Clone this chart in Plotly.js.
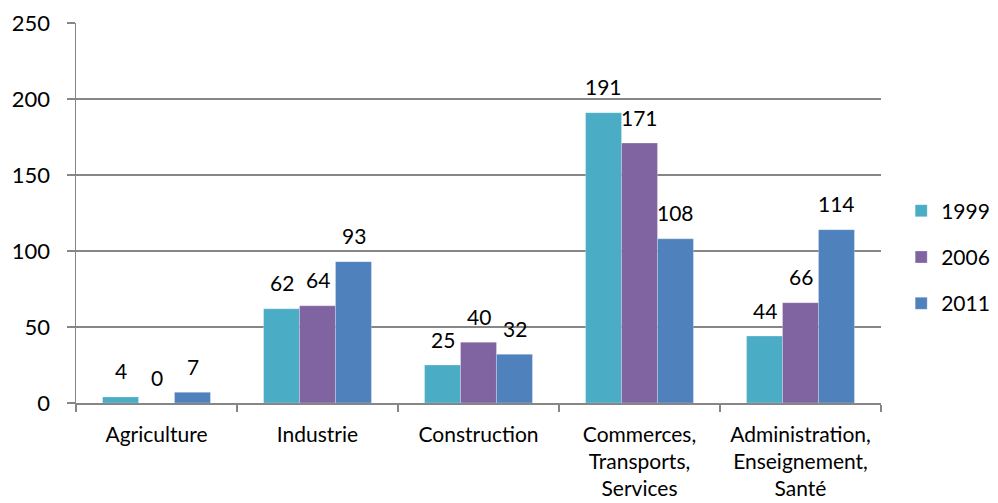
<!DOCTYPE html>
<html>
<head>
<meta charset="utf-8">
<script src="https://cdn.plot.ly/plotly-3.0.1.min.js"></script>
<style>html,body{margin:0;padding:0;background:#fff;}#chart{width:998px;height:503px;}</style>
</head>
<body>
<div id="chart"></div>
<script>
const categories = ["Agriculture", "Industrie", "Construction", "Commerces,<br>Transports,<br>Services", "Administration,<br>Enseignement,<br>Santé"];
const seriesNames = ["1999", "2006", "2011"];
const v1999 = [4, 62, 25, 191, 44];
const v2006 = [0, 64, 40, 171, 66];
const v2011 = [7, 93, 32, 108, 114];
const yTicks = [0, 50, 100, 150, 200, 250];
const colors = ["#4BACC6", "#8064A2", "#4F81BD"];

const FONT = "Lato, 'Open Sans', sans-serif";
const values = [v1999, v2006, v2011];
const traces = values.map((vals, i) => ({
  type: "bar",
  name: seriesNames[i],
  x: categories,
  y: vals,
  legendgroup: "g" + i,
  marker: {color: colors[i], line: {color: "rgba(255,255,255,0.5)", width: 0.5}}
}));

// value labels, placed above each bar via data coordinates
const BAR_PX = 36; // visual offset between grouped bars
const annotations = [];
values.forEach((vals, i) => {
  vals.forEach((v, j) => {
    annotations.push({
      x: categories[j], y: v, xref: "x", yref: "y",
      text: String(v), showarrow: false,
      xshift: (i - 1) * BAR_PX, yshift: 26, yanchor: "middle",
      font: {family: FONT, size: 21, color: "#000"}
    });
  });
});

const layout = {
  width: 998, height: 503,
  margin: {l: 76, r: 117, t: 23, b: 100},
  paper_bgcolor: "#fff", plot_bgcolor: "#fff",
  font: {family: FONT, size: 21, color: "#000"},
  barmode: "group",
  bargap: 0.33,
  bargroupgap: 0,
  showlegend: true,
  annotations: annotations,
  legend: {xref: "container", yref: "container", x: 0.903, y: 0.489, yanchor: "middle", xanchor: "left",
           tracegroupgap: 16, font: {family: FONT, size: 21, color: "#000"}, itemwidth: 30},
  xaxis: {
    type: "category",
    tickson: "boundaries",
    ticks: "outside", ticklen: 7, tickcolor: "#868686", tickwidth: 1.5,
    showline: true, linecolor: "#868686", linewidth: 1.5,
    showgrid: false, zeroline: false,
    ticklabelstandoff: 12,
    tickfont: {family: FONT, size: 21, color: "#000"},
    automargin: false
  },
  yaxis: {
    range: [0, 250],
    tickvals: yTicks,
    ticks: "outside", ticklen: 8, tickcolor: "#868686", tickwidth: 1.5,
    showline: true, linecolor: "#868686", linewidth: 1.5,
    showgrid: true, gridcolor: "#868686", gridwidth: 1.2,
    zeroline: false,
    ticklabelstandoff: 12,
    tickfont: {family: FONT, size: 22, color: "#000"},
    automargin: false
  }
};

Plotly.newPlot("chart", traces, layout, {displayModeBar: false, staticPlot: true});
</script>
</body>
</html>
